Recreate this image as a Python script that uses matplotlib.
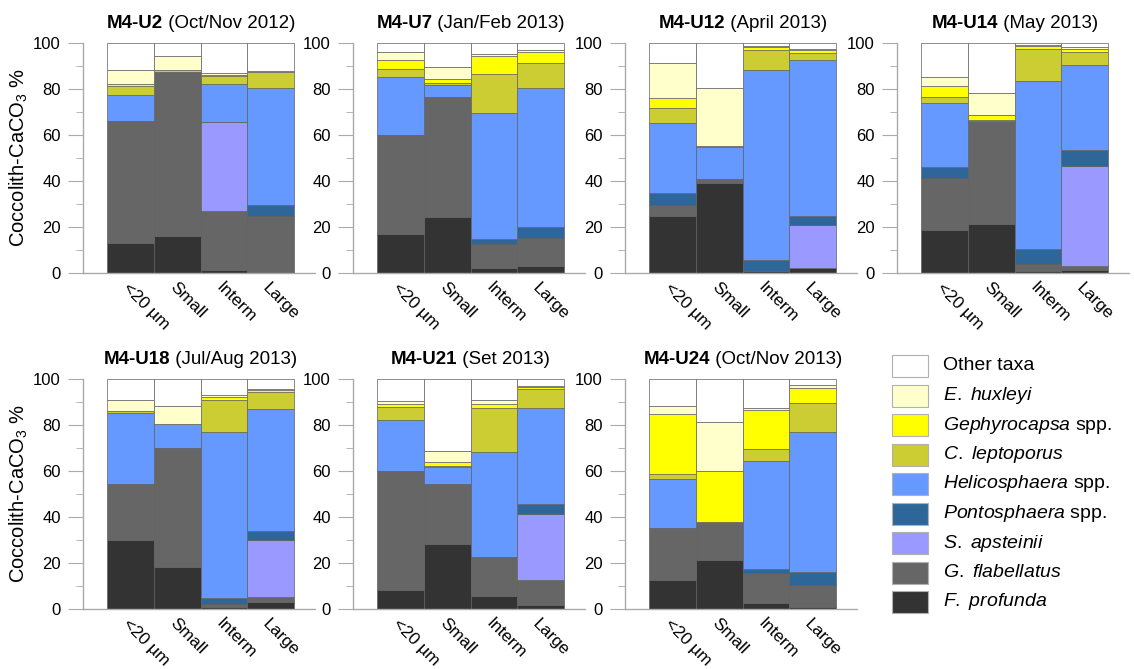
import numpy as np
import matplotlib
matplotlib.use("Agg")
import matplotlib.pyplot as plt
from matplotlib.patches import Rectangle

plt.rcParams["font.family"] = ["Liberation Sans", "DejaVu Sans"]
plt.rcParams["mathtext.fontset"] = "custom"
plt.rcParams["mathtext.rm"] = "Liberation Sans"
plt.rcParams["mathtext.it"] = "Liberation Sans:italic"
plt.rcParams["mathtext.bf"] = "Liberation Sans:bold"

# ── data ─────────────────────────────────────────────────
sizes = ["<20 µm", "Small", "Interm", "Large"]

# stack order, bottom to top
taxa = ["F. profunda", "G. flabellatus", "S. apsteinii", "Pontosphaera spp.",
        "Helicosphaera spp.", "C. leptoporus", "Gephyrocapsa spp.",
        "E. huxleyi", "Other taxa"]
legend_labels = [r"$\mathit{F.\ profunda}$", r"$\mathit{G.\ flabellatus}$",
                 r"$\mathit{S.\ apsteinii}$", r"$\mathit{Pontosphaera}$ spp.",
                 r"$\mathit{Helicosphaera}$ spp.", r"$\mathit{C.\ leptoporus}$",
                 r"$\mathit{Gephyrocapsa}$ spp.", r"$\mathit{E.\ huxleyi}$",
                 "Other taxa"]
colors = ["#333333", "#666666", "#9999FF", "#2F6699", "#6699FF",
          "#CCCC33", "#FFFF00", "#FFFFCC", "#FFFFFF"]

# rows = taxa (bottom to top), columns = sizes
U2 = [[13, 16, 1.2, 0.3],
      [53, 71.5, 25.6, 24.3],
      [0, 0, 39, 0],
      [0, 0, 0, 5],
      [11.5, 0, 16.2, 51],
      [4, 0.8, 3.8, 6.7],
      [0.7, 0, 0.5, 0.3],
      [6.2, 6.2, 0.7, 0.4],
      [11.6, 5.5, 13, 12]]
U7 = [[17, 24.2, 2.3, 3.2],
      [43, 52.5, 10.5, 12],
      [0, 0, 0, 0],
      [0, 0, 2, 4.7],
      [25.2, 5.2, 54.8, 60.5],
      [3.5, 0.7, 16.8, 10.9],
      [3.8, 1.6, 7.8, 4.8],
      [3.6, 5.4, 1.2, 1],
      [3.9, 10.4, 4.6, 2.9]]
U12 = [[25, 39, 0.9, 2.3],
       [4.6, 2, 0, 0],
       [0, 0, 0, 18.6],
       [5.2, 0, 4.6, 3.7],
       [30.6, 13.8, 82.9, 67.9],
       [6.3, 0.4, 8.7, 3.3],
       [4.4, 0, 1.2, 1],
       [15.3, 25.4, 0.3, 0.6],
       [8.6, 19.4, 1.4, 2.6]]
U14 = [[18.5, 21.3, 0.9, 1.4],
       [22.9, 44.5, 2.9, 1.8],
       [0, 0, 0, 43.3],
       [4.7, 0, 6.5, 6.8],
       [28, 0.3, 73.2, 37],
       [2.4, 0.3, 13.9, 5.8],
       [4.9, 2.3, 1.2, 1.4],
       [3.8, 9.6, 0.5, 0.8],
       [14.8, 21.7, 0.9, 1.7]]
U18 = [[30.1, 18.4, 0.9, 2.9],
       [24.1, 51.6, 1.4, 2.3],
       [0, 0, 0, 24.7],
       [0, 0, 2.5, 4],
       [31, 10.3, 72, 53.2],
       [0.8, 0.3, 13.9, 7.4],
       [0, 0, 1.5, 0.9],
       [4.9, 7.8, 0.7, 0.3],
       [9.1, 11.6, 7.1, 4.3]]
U21 = [[8.1, 28.4, 5.7, 1.7],
       [52, 26.1, 16.8, 11.1],
       [0, 0, 0, 28.5],
       [0, 0, 0, 4.2],
       [22.2, 7.2, 45.9, 42],
       [5.5, 0.5, 18.8, 8.3],
       [1.2, 1.7, 2.1, 0.7],
       [1.4, 4.7, 1.4, 0.6],
       [9.6, 31.4, 9.3, 2.9]]
U24 = [[12.8, 21.2, 2.6, 0.9],
       [22.4, 16.5, 13.1, 9.4],
       [0, 0, 0, 0],
       [0, 0, 1.7, 5.9],
       [21.2, 0, 47.1, 60.8],
       [2.3, 0, 4.9, 12.4],
       [26.2, 22.4, 17.3, 6.8],
       [3.5, 21.1, 0.5, 1],
       [11.6, 18.8, 12.8, 2.8]]

stations = ["M4-U2", "M4-U7", "M4-U12", "M4-U14", "M4-U18", "M4-U21", "M4-U24"]
periods = ["(Oct/Nov 2012)", "(Jan/Feb 2013)", "(April 2013)", "(May 2013)",
           "(Jul/Aug 2013)", "(Set 2013)", "(Oct/Nov 2013)"]
panels = [U2, U7, U12, U14, U18, U21, U24]

# ── figure ───────────────────────────────────────────────
W, H = 1134, 669
fig = plt.figure(figsize=(W / 100, H / 100), dpi=100)

lefts = [83, 353, 625, 897]
rows = [(43, 273), (379, 609)]
ax_w = 232

titles = []
for i, (data, st, per) in enumerate(zip(panels, stations, periods)):
    r, c = divmod(i, 4)
    top, bot = rows[r]
    ax = fig.add_axes([lefts[c] / W, 1 - bot / H, ax_w / W, (bot - top) / H])
    x = np.arange(len(sizes))
    bottom = np.zeros(len(sizes))
    for vals, col in zip(data, colors):
        vals = np.array(vals, dtype=float)
        ax.bar(x, vals, width=1.0, bottom=bottom, color=col,
               edgecolor="#606060", linewidth=0.5)
        bottom += vals
    ax.set_xlim(-1.02, 3.95)
    ax.set_ylim(0, 100)
    ax.set_yticks(range(0, 101, 20))
    ax.set_yticks(range(10, 100, 20), minor=True)
    ax.set_xticks(x)
    ax.set_xticklabels(sizes, rotation=-45, ha="left", va="top",
                       rotation_mode="anchor", fontsize=12.5)
    ax.tick_params(axis="x", length=0, pad=5)
    ax.tick_params(axis="y", which="major", length=11, color="#aaaaaa",
                   labelsize=12, pad=5)
    ax.tick_params(axis="y", which="minor", length=5, color="#aaaaaa")
    for s in ["top", "right"]:
        ax.spines[s].set_visible(False)
    for s in ["left", "bottom"]:
        ax.spines[s].set_color("#aaaaaa")
        ax.spines[s].set_linewidth(1.0)
    if c == 0:
        ax.set_ylabel("Coccolith-CaCO$_3$ %", fontsize=14.5, labelpad=2)

    t1 = ax.annotate(st, xy=(1.5, 1.0), xycoords=ax.get_xaxis_transform(),
                     xytext=(0, 11), textcoords="offset points",
                     ha="left", va="baseline", fontsize=13.5, fontweight="bold")
    t2 = ax.annotate(" " + per, xy=(1, 0), xycoords=t1, ha="left",
                     va="bottom", fontsize=13.5)
    titles.append((t1, t2))

# centre the two-part titles over the bars
fig.canvas.draw()
for t1, t2 in titles:
    w = t1.get_window_extent().width + t2.get_window_extent().width
    t1.xyann = (-w / 2 * 72 / fig.dpi, 11)

# ── legend ───────────────────────────────────────────────
for k, (lab, col) in enumerate(zip(legend_labels[::-1], colors[::-1])):
    yc = 366 + k * 29.5
    fig.add_artist(Rectangle((892 / W, 1 - (yc + 11) / H), 36 / W, 22 / H,
                             transform=fig.transFigure, facecolor=col,
                             edgecolor="#b0b0b0", linewidth=0.8))
    fig.text(943 / W, 1 - yc / H, lab, fontsize=14, va="center", ha="left")

fig.savefig("out.png", dpi=100)
